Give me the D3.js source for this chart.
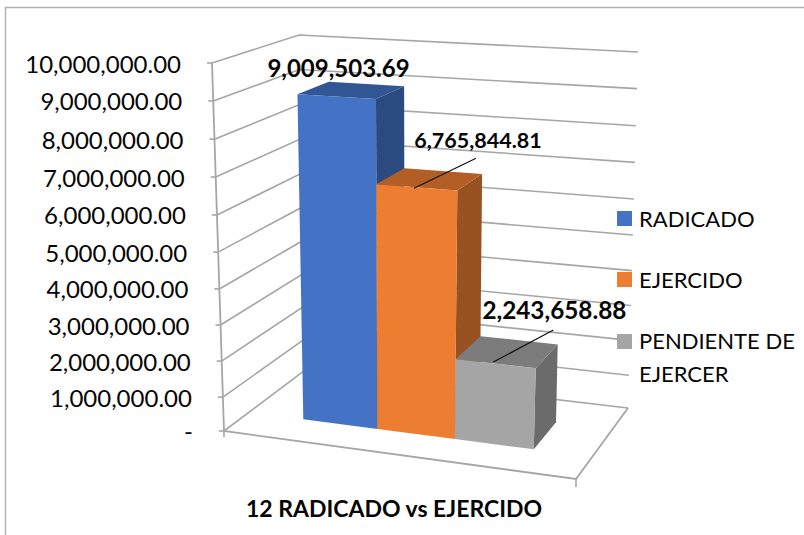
<!DOCTYPE html>
<html><head><meta charset="utf-8">
<script src="https://cdn.jsdelivr.net/npm/d3@7"></script>
<style>html,body{margin:0;padding:0;background:#fff}svg{display:block}text{font-family:Lato,sans-serif;fill:#050505}</style>
</head><body><svg id="c" width="804" height="535"></svg>
<script>
const categories = ["RADICADO", "EJERCIDO", "PENDIENTE DE EJERCER"];
const values = [9009503.69, 6765844.81, 2243658.88];
const valueLabels = ["9,009,503.69", "6,765,844.81", "2,243,658.88"];
const tickValues = [0,1e6,2e6,3e6,4e6,5e6,6e6,7e6,8e6,9e6,1e7];
const tickLabels = ["-","1,000,000.00","2,000,000.00","3,000,000.00","4,000,000.00","5,000,000.00","6,000,000.00","7,000,000.00","8,000,000.00","9,000,000.00","10,000,000.00"];
const tickFractions = [0,.092,.190,.288,.386,.486,.587,.690,.793,.897,1];
const frontColors = ["#4472c4","#ed7d31","#a5a5a5"];
const topColors = ["#325593","#b35e25","#7c7c7c"];
const sideColors = ["#2a4a80","#985120","#6b6b6b"];

const svg = d3.select("#c");
const h = d3.scaleLinear().domain(tickValues).range(tickFractions);
const xPos = d3.scaleLinear().domain([0,1,2,3]).range([.158,.374,.60,.83]);
const zFront=.31, zBack=.70;
const C = { // [x,y] corners, index: x(0/1) t(0/1) z(0/1)
  '000':[224,431],'100':[576,479],'010':[212,63],'110':[590,83],
  '001':[305,370],'101':[628,408],'011':[299,35],'111':[638,52]};
function project(x,v,z){
  const t=h(v); let px=0,py=0;
  for(const a of [0,1])for(const b of [0,1])for(const c of [0,1]){
    const w=(a?x:1-x)*(b?t:1-t)*(c?z:1-z), p=C[`${a}${b}${c}`];
    px+=w*p[0];py+=w*p[1];
  }
  return [px,py];
}
const poly=(pts,fill)=>svg.append("polygon").attr("points",pts.map(p=>p.join(",")).join(" ")).attr("fill",fill);
const line=d3.line();
const gridColor="#a6a6a6";
// border
svg.append("path").attr("d","M5.5,535V7.5H804").attr("fill","none").attr("stroke","#b4b4b4").attr("stroke-width",1.5);
// gridlines
tickValues.forEach((v,i)=>{
  svg.append("path").attr("d",line([project(0,v,0),project(0,v,1),project(1,v,1)])).attr("fill","none").attr("stroke",gridColor).attr("stroke-width",1.6);
  const p=project(0,v,0);
  svg.append("path").attr("d",line([[p[0]-5,p[1]],p])).attr("stroke",gridColor).attr("stroke-width",1.6);
  svg.append("text").attr("x",p[0]-31).attr("y",p[1]+(i?9.5:9)).attr("text-anchor","end").attr("font-size",24).text(tickLabels[i]);
});
// axis + floor
const vmax=tickValues[10];
svg.append("path").attr("d",line([project(0,vmax,0),project(0,0,0),project(1,0,0),project(1,0,1)])).attr("fill","none").attr("stroke",gridColor).attr("stroke-width",1.8);
[[0,0,6],[1,0,8]].forEach(([x,v,l])=>{const p=project(x,v,0);svg.append("path").attr("d",line([p,[p[0],p[1]+l]])).attr("stroke",gridColor).attr("stroke-width",1.6);});
// bars
values.forEach((v,i)=>{
  const a=xPos(i), b=xPos(i+1);
  poly([project(b,0,zFront),project(b,v,zFront),project(b,v,zBack),project(b,0,zBack)],sideColors[i]);
  poly([project(a,v,zFront),project(b,v,zFront),project(b,v,zBack),project(a,v,zBack)],topColors[i]);
  poly([project(a,0,zFront),project(b,0,zFront),project(b,v,zFront),project(a,v,zFront)],frontColors[i]);
});
// leaders + labels
const labelFont=[24,21.5,24.3];
const labelOffsets=[null,{st:[-16,9],lead:[62,-30],lbl:[64,-40]},{st:[-14,10],lead:[60,-32],lbl:[61,-43]}];
values.forEach((v,i)=>{
  const m=project((xPos(i)+xPos(i+1))/2,v,(zFront+zBack)/2);
  let lx,ly;
  if(i===0){lx=338.5;ly=77;}
  else{
    const off=labelOffsets[i];
    const st=[m[0]+off.st[0],m[1]+off.st[1]];
    const end=[st[0]+off.lead[0],st[1]+off.lead[1]];
    svg.append("path").attr("d",line([st,end])).attr("stroke","#111").attr("stroke-width",1.2);
    lx=st[0]+off.lbl[0];ly=st[1]+off.lbl[1];
  }
  svg.append("text").attr("x",lx).attr("y",ly).attr("text-anchor","middle").attr("font-size",labelFont[i]).attr("font-weight",700).text(valueLabels[i]);
});
// legend
const legY=[211,272,334];
categories.forEach((c,i)=>{
  svg.append("rect").attr("x",617).attr("y",legY[i]).attr("width",15).attr("height",15).attr("fill",frontColors[i]);
});
[["RADICADO",227],["EJERCIDO",288],["PENDIENTE DE",349],["EJERCER",382]].forEach(([t,y])=>{
  svg.append("text").attr("x",639).attr("y",y).attr("font-size",22).text(t);
});
svg.append("text").attr("x",394).attr("y",517).attr("text-anchor","middle").attr("font-size",23).attr("font-weight",700).text("12 RADICADO vs EJERCIDO");
</script></body></html>
